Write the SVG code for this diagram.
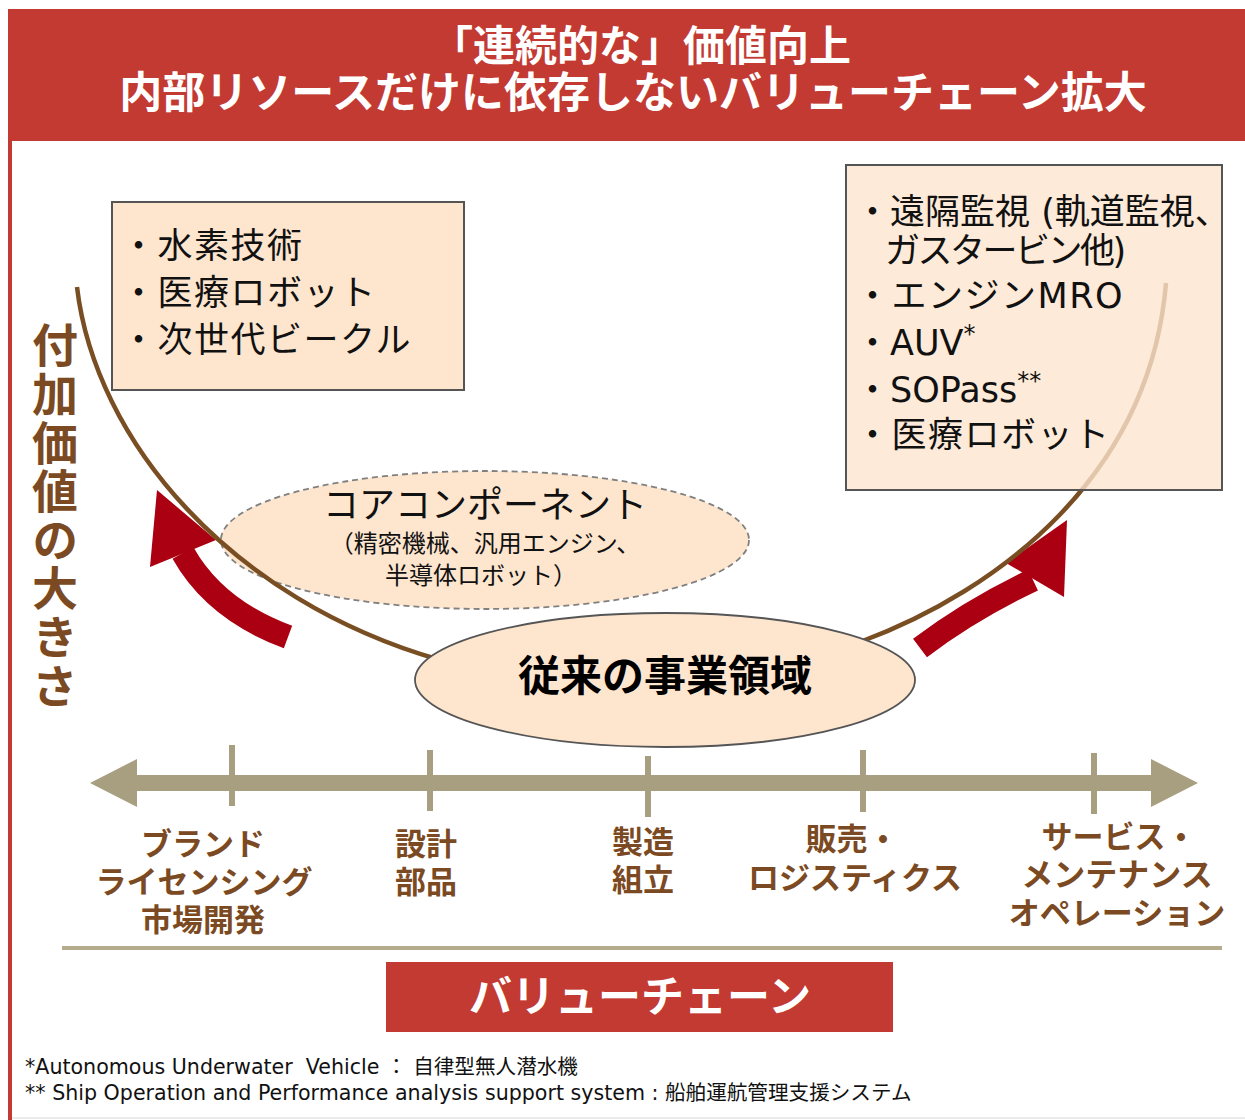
<svg xmlns="http://www.w3.org/2000/svg" width="1245" height="1120" viewBox="0 0 1245 1120">
<defs>
<style>
.jp{font-family:"Noto Sans CJK JP","Noto Sans CJK SC",sans-serif}
.mix{font-family:"DejaVu Sans","Noto Sans CJK JP",sans-serif}
.title{font-family:"Noto Sans CJK JP",sans-serif;font-weight:bold;fill:#fff;text-anchor:middle}
.item{font-size:35px;fill:#111}
.sp{letter-spacing:1.5px}
.axl{font-family:"Noto Sans CJK JP",sans-serif;font-weight:bold;font-size:31px;fill:#7B4A22;text-anchor:middle}
.box{fill:#FDE5CE;stroke:#555;stroke-width:2}
.tick{stroke:#A89F80;stroke-width:6}
.red{fill:#AA0012}
.foot{font-family:"DejaVu Sans","Noto Sans CJK JP",sans-serif;font-size:20.6px;fill:#111;white-space:pre}
</style>
</defs>
<rect width="1245" height="1120" fill="#fff"/>
<g id="frame">
<rect x="8" y="9" width="1237" height="132" fill="#C23A32"/>
<rect x="8" y="9" width="4" height="1111" fill="#C23A32"/>
<line x1="12" y1="1118" x2="1245" y2="1118" stroke="#e4e4e4" stroke-width="1.5"/>
</g>
<g id="title">
<text class="title"><tspan x="641" y="61" font-size="42">「連続的な」価値向上</tspan><tspan x="633" y="108" font-size="43">内部リソースだけに依存しないバリューチェーン拡大</tspan></text>
</g>
<g id="y-axis-label">
<text class="jp" x="55" y="322" font-weight="bold" font-size="46" fill="#7B4A22" letter-spacing="2.6" style="writing-mode:vertical-rl;text-orientation:upright">付加価値の大きさ</text>
</g>
<g id="node-core-component">
<ellipse cx="485" cy="540" rx="264" ry="69" fill="#FDE5CE" stroke="#808080" stroke-width="1.8" stroke-dasharray="6,4"/>
</g>
<g id="connectors">
<path d="M288,637 Q215,610 183,553" fill="none" stroke="#AA0012" stroke-width="24"/>
<polygon class="red" points="157,490 150,567 216,540"/>
<path d="M920,648 Q970,610 1033,580" fill="none" stroke="#AA0012" stroke-width="23"/>
<polygon class="red" points="1067,520 1006,563 1064,597"/>
<path d="M77,287 C95,440 230,600 440,660 L860,642 C1000,590 1150,475 1166,283" fill="none" stroke="#7A4E23" stroke-width="4.5"/>
</g>
<g id="node-left-box">
<rect class="box" x="112" y="202" width="352" height="188"/>
<text class="mix item sp"><tspan x="121" y="258">・水素技術</tspan><tspan x="121" y="305">・医療ロボット</tspan><tspan x="121" y="352">・次世代ビークル</tspan></text>
</g>
<g id="node-right-box">
<rect x="846" y="165" width="376" height="325" fill="#FDE5CE" fill-opacity="0.8" stroke="#555" stroke-width="2"/>
<text class="mix item"><tspan x="855" y="224">・遠隔監視 (軌道監視、</tspan><tspan x="885" y="263" letter-spacing="-2.5">ガスタービン他)</tspan><tspan x="855" y="308" letter-spacing="1.5">・エンジンMRO</tspan><tspan x="855" y="355">・AUV</tspan><tspan font-size="24" dy="-13">*</tspan><tspan x="855" y="402">・SOPass</tspan><tspan font-size="24" dy="-13">**</tspan><tspan x="855" y="447" letter-spacing="1.5">・医療ロボット</tspan></text>
</g>
<g id="node-core-component-text">
<text class="jp" fill="#111" text-anchor="middle"><tspan x="485" y="518" font-size="36">コアコンポーネント</tspan><tspan x="485" y="552" font-size="24">（精密機械、汎用エンジン、</tspan><tspan x="481" y="584" font-size="24">半導体ロボット）</tspan></text>
</g>
<g id="node-conventional">
<ellipse cx="665" cy="680" rx="250" ry="67" fill="#FDE5CE" stroke="#555" stroke-width="1.8"/>
<text class="jp" x="665" y="691" font-size="42" font-weight="bold" fill="#000" text-anchor="middle">従来の事業領域</text>
</g>
<g id="value-chain-axis">
<rect x="130" y="775" width="1030" height="16" fill="#A89F80"/>
<polygon points="90,783 137,759 137,807" fill="#A89F80"/>
<polygon points="1198,783 1151,759 1151,807" fill="#A89F80"/>
<line class="tick" x1="232" y1="745" x2="232" y2="806"/>
<line class="tick" x1="430" y1="750" x2="430" y2="811"/>
<line class="tick" x1="648" y1="756" x2="648" y2="817"/>
<line class="tick" x1="863" y1="750" x2="863" y2="812"/>
<line class="tick" x1="1094" y1="753" x2="1094" y2="814"/>
<line x1="62" y1="948" x2="1222" y2="948" stroke="#B5AC8E" stroke-width="4"/>
</g>
<g id="stage-brand">
<text class="axl"><tspan x="203" y="855">ブランド</tspan><tspan x="204" y="893">ライセンシング</tspan><tspan x="203" y="931">市場開発</tspan></text>
</g>
<g id="stage-design">
<text class="axl"><tspan x="426" y="855">設計</tspan><tspan x="426" y="893">部品</tspan></text>
</g>
<g id="stage-manufacturing">
<text class="axl"><tspan x="643" y="853">製造</tspan><tspan x="643" y="891">組立</tspan></text>
</g>
<g id="stage-sales">
<text class="axl"><tspan x="852" y="850">販売・</tspan><tspan x="855" y="889">ロジスティクス</tspan></text>
</g>
<g id="stage-service">
<text class="axl"><tspan x="1119" y="848">サービス・</tspan><tspan x="1117" y="886" font-size="32">メンテナンス</tspan><tspan x="1117" y="924">オペレーション</tspan></text>
</g>
<g id="value-chain-label">
<rect x="386" y="962" width="507" height="70" fill="#C23A32"/>
<text class="title" x="640" y="1012" font-size="43">バリューチェーン</text>
</g>
<g id="footnotes">
<text class="foot"><tspan x="25" y="1074">*Autonomous Underwater  Vehicle ： 自律型無人潜水機</tspan><tspan x="25" y="1100">** Ship Operation and Performance analysis support system : 船舶運航管理支援システム</tspan></text>
</g>
</svg>
